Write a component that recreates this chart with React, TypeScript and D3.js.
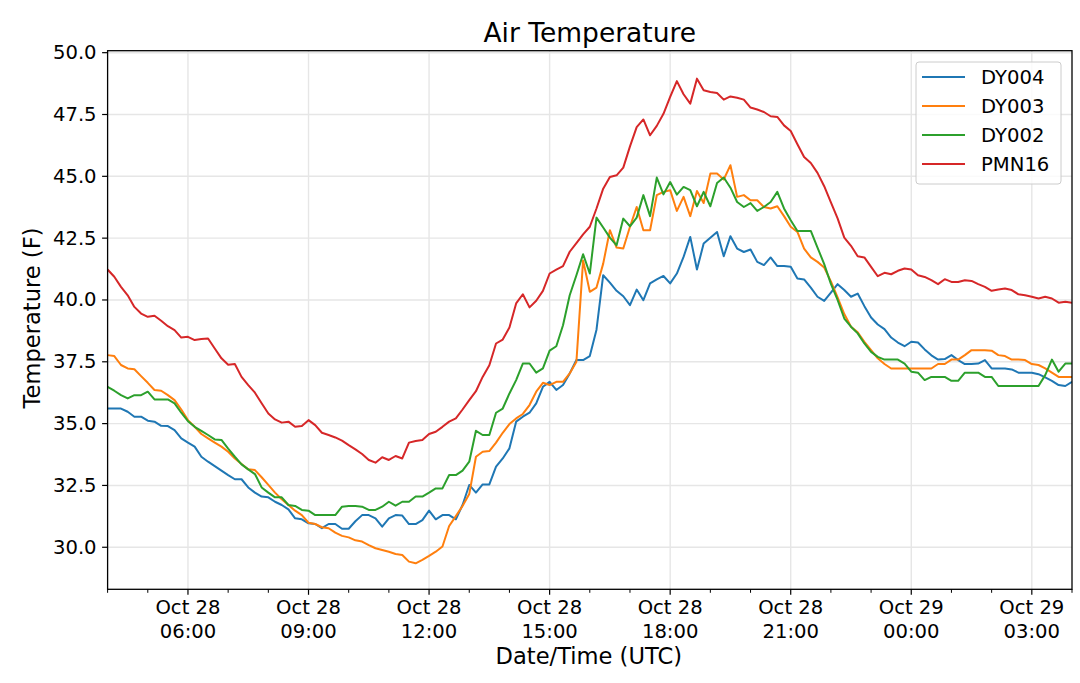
import React from 'react';
import * as d3 from 'd3';

const W = 1080;
const H = 683;
const M = { left: 107.6, right: 1072, top: 50.7, bottom: 589.3 };

// 10-minute samples starting Oct 28 04:00 UTC
const startUTC = Date.UTC(2018, 9, 28, 4, 0);
const stepMinutes = 10;

const dy004 = [
  35.61, 35.61, 35.61, 35.48, 35.28, 35.28, 35.12, 35.08, 34.91, 34.90,
  34.74, 34.40, 34.23, 34.07, 33.66, 33.46, 33.28, 33.10, 32.92, 32.75,
  32.75, 32.42, 32.21, 32.05, 32.02, 31.84, 31.71, 31.53, 31.17, 31.13,
  30.97, 30.94, 30.77, 30.94, 30.94, 30.75, 30.75, 31.05, 31.30, 31.30,
  31.17, 30.83, 31.17, 31.30, 31.28, 30.94, 30.94, 31.10, 31.48, 31.13,
  31.30, 31.30, 31.13, 31.71, 32.52, 32.21, 32.54, 32.54, 33.26, 33.59,
  34.00, 35.08, 35.28, 35.44, 35.82, 36.49, 36.69, 36.36, 36.56, 37.03,
  37.57, 37.57, 37.73, 38.80, 41.00, 40.70, 40.37, 40.15, 39.79, 40.42,
  39.99, 40.67, 40.83, 40.97, 40.67, 41.07, 41.74, 42.55, 41.23, 42.28,
  42.52, 42.75, 41.77, 42.58, 42.08, 41.94, 42.04, 41.54, 41.41, 41.72,
  41.37, 41.37, 41.34, 40.87, 40.83, 40.50, 40.13, 39.96, 40.30, 40.64,
  40.40, 40.13, 40.26, 39.75, 39.29, 39.01, 38.82, 38.48, 38.28, 38.13,
  38.31, 38.28, 38.00, 37.76, 37.59, 37.61, 37.77, 37.57, 37.41, 37.41,
  37.43, 37.57, 37.23, 37.23, 37.23, 37.19, 37.06, 37.06, 37.06, 37.00,
  36.87, 36.73, 36.56, 36.52, 36.69,
];

const dy003 = [
  37.77, 37.73, 37.37, 37.23, 37.20, 36.92, 36.65, 36.36, 36.33, 36.15,
  35.95, 35.57, 35.14, 34.87, 34.58, 34.40, 34.23, 34.07, 33.86, 33.59,
  33.37, 33.15, 33.12, 32.83, 32.52, 32.21, 31.94, 31.71, 31.48, 31.30,
  30.99, 30.94, 30.81, 30.77, 30.59, 30.46, 30.40, 30.28, 30.23, 30.09,
  29.96, 29.89, 29.82, 29.73, 29.69, 29.42, 29.35, 29.49, 29.65, 29.82,
  30.03, 30.86, 31.26, 31.67, 32.15, 33.66, 33.86, 33.89, 34.23, 34.63,
  34.98, 35.21, 35.39, 35.75, 36.29, 36.65, 36.56, 36.69, 36.69, 37.03,
  37.50, 41.60, 40.33, 40.50, 41.47, 42.82, 42.12, 42.08, 42.96, 43.76,
  42.82, 42.82, 44.24, 44.37, 44.44, 43.60, 44.17, 43.39, 44.41, 43.92,
  45.11, 45.11, 44.87, 45.45, 44.17, 44.24, 44.03, 44.03, 43.76, 43.70,
  43.79, 43.39, 42.96, 42.75, 42.08, 41.72, 41.54, 41.31, 40.75, 40.10,
  39.43, 38.92, 38.69, 38.31, 37.97, 37.64, 37.41, 37.23, 37.23, 37.23,
  37.23, 37.23, 37.23, 37.23, 37.41, 37.41, 37.59, 37.59, 37.77, 37.97,
  37.97, 37.97, 37.95, 37.77, 37.73, 37.59, 37.59, 37.57, 37.41, 37.37,
  37.23, 37.06, 36.89, 36.89, 36.89,
];

const dy002 = [
  36.49, 36.33, 36.15, 36.02, 36.15, 36.15, 36.29, 35.98, 35.98, 35.98,
  35.82, 35.44, 35.10, 34.87, 34.71, 34.54, 34.36, 34.34, 33.99, 33.66,
  33.35, 33.15, 32.96, 32.42, 32.21, 32.02, 32.02, 31.71, 31.67, 31.51,
  31.48, 31.30, 31.30, 31.30, 31.30, 31.64, 31.67, 31.67, 31.64, 31.51,
  31.51, 31.64, 31.84, 31.68, 31.84, 31.84, 32.05, 32.05, 32.21, 32.38,
  32.38, 32.92, 32.92, 33.10, 33.46, 34.71, 34.54, 34.54, 35.44, 35.61,
  36.22, 36.76, 37.43, 37.43, 37.06, 37.23, 37.95, 38.13, 38.98, 40.19,
  41.00, 41.85, 41.07, 43.33, 42.93, 42.52, 42.21, 43.29, 42.98, 43.33,
  44.24, 43.39, 44.95, 44.27, 44.77, 44.26, 44.57, 44.44, 43.79, 44.37,
  43.79, 44.73, 44.95, 44.54, 43.96, 43.76, 43.92, 43.60, 43.76, 43.96,
  44.37, 43.70, 43.22, 42.79, 42.79, 42.79, 42.12, 41.45, 40.65, 40.00,
  39.25, 38.92, 38.65, 38.24, 37.90, 37.70, 37.59, 37.59, 37.59, 37.43,
  37.10, 37.06, 36.76, 36.89, 36.89, 36.89, 36.73, 36.73, 37.06, 37.06,
  37.06, 36.89, 36.89, 36.52, 36.52, 36.52, 36.52, 36.52, 36.52, 36.52,
  36.96, 37.59, 37.10, 37.43, 37.43,
];

const pmn16 = [
  41.23, 40.94, 40.53, 40.19, 39.72, 39.45, 39.32, 39.36, 39.16, 38.94,
  38.78, 38.48, 38.51, 38.38, 38.42, 38.44, 38.04, 37.64, 37.38, 37.41,
  36.89, 36.56, 36.25, 35.82, 35.41, 35.17, 35.04, 35.08, 34.87, 34.90,
  35.14, 34.94, 34.63, 34.54, 34.44, 34.31, 34.13, 33.96, 33.77, 33.53,
  33.42, 33.64, 33.53, 33.69, 33.59, 34.23, 34.30, 34.34, 34.58, 34.67,
  34.87, 35.08, 35.21, 35.57, 35.95, 36.31, 36.89, 37.36, 38.24, 38.40,
  38.89, 39.86, 40.23, 39.70, 39.97, 40.37, 41.07, 41.23, 41.37, 41.95,
  42.30, 42.65, 42.96, 43.70, 44.50, 44.97, 45.04, 45.35, 46.21, 46.99,
  47.30, 46.66, 47.04, 47.53, 48.21, 48.85, 48.32, 47.94, 48.95, 48.48,
  48.41, 48.37, 48.10, 48.23, 48.18, 48.10, 47.78, 47.70, 47.60, 47.43,
  47.40, 47.06, 46.83, 46.30, 45.78, 45.54, 45.14, 44.60, 43.95, 43.30,
  42.52, 42.19, 41.77, 41.72, 41.34, 40.96, 41.10, 41.04, 41.18, 41.27,
  41.23, 41.00, 40.93, 40.80, 40.64, 40.84, 40.73, 40.73, 40.80, 40.77,
  40.64, 40.53, 40.37, 40.42, 40.46, 40.40, 40.23, 40.19, 40.13, 40.06,
  40.13, 40.06, 39.89, 39.93, 39.89,
];

const seriesNames = ['DY004', 'DY003', 'DY002', 'PMN16'];
const seriesColors = ['#1f77b4', '#ff7f0e', '#2ca02c', '#d62728'];
const seriesValues = [dy004, dy003, dy002, pmn16];

const yTicks = [30.0, 32.5, 35.0, 37.5, 40.0, 42.5, 45.0, 47.5, 50.0];
const yDomain = [28.3, 50.08];

const FONT = 'DejaVu Sans, sans-serif';

export default function App() {
  const times = dy004.map((_, i) => new Date(startUTC + i * stepMinutes * 60000));
  const x = d3.scaleUtc().domain([times[0], times[times.length - 1]]).range([M.left, M.right]);
  const y = d3.scaleLinear().domain(yDomain).range([M.bottom, M.top]);
  const line = d3
    .line<number>()
    .x((_, i) => x(times[i]))
    .y((d) => y(d));

  const major = x.ticks(d3.utcHour.every(3) as any);
  const minor = x.ticks(d3.utcHour.every(1) as any).filter((t) => t.getUTCHours() % 3 !== 0);
  const fmtDate = d3.utcFormat('%b %d');
  const fmtTime = d3.utcFormat('%H:%M');

  const legendX = 916;
  const legendY = 62;
  const rowH = 29;

  return (
    <svg
      width={W}
      height={H}
      style={{ position: 'absolute', left: 0, top: 0, background: '#fff' }}
      fontFamily={FONT}
    >
      <rect x={0} y={0} width={W} height={H} fill="#fff" />
      <defs>
        <clipPath id="plotclip">
          <rect x={M.left} y={M.top} width={M.right - M.left} height={M.bottom - M.top} />
        </clipPath>
      </defs>

      {/* grid */}
      <g stroke="#e6e6e6" strokeWidth={1.4}>
        {yTicks.map((v) => (
          <line key={'gy' + v} x1={M.left} x2={M.right} y1={y(v)} y2={y(v)} />
        ))}
        {major.map((t) => (
          <line key={'gx' + t.getTime()} x1={x(t)} x2={x(t)} y1={M.top} y2={M.bottom} />
        ))}
      </g>

      {/* series */}
      <g clipPath="url(#plotclip)" fill="none" strokeWidth={2} strokeLinejoin="round">
        {seriesValues.map((vals, si) => (
          <path key={seriesNames[si]} d={line(vals) || ''} stroke={seriesColors[si]} />
        ))}
      </g>

      {/* spines */}
      <rect
        x={M.left}
        y={M.top}
        width={M.right - M.left}
        height={M.bottom - M.top}
        fill="none"
        stroke="#000"
        strokeWidth={1.3}
      />

      {/* y axis ticks */}
      <g>
        {yTicks.map((v) => (
          <g key={'yt' + v}>
            <line x1={M.left - 5.5} x2={M.left} y1={y(v)} y2={y(v)} stroke="#000" strokeWidth={1.2} />
            <text
              x={M.left - 11}
              y={y(v)}
              textAnchor="end"
              dominantBaseline="central"
              fontSize={19.6}
              fill="#000"
            >
              {v.toFixed(1)}
            </text>
          </g>
        ))}
      </g>

      {/* x axis ticks */}
      <g>
        {minor.map((t) => (
          <line
            key={'mx' + t.getTime()}
            x1={x(t)}
            x2={x(t)}
            y1={M.bottom}
            y2={M.bottom + 3.5}
            stroke="#000"
            strokeWidth={1}
          />
        ))}
        {major.map((t) => (
          <g key={'xt' + t.getTime()}>
            <line x1={x(t)} x2={x(t)} y1={M.bottom} y2={M.bottom + 5.5} stroke="#000" strokeWidth={1.2} />
            <text x={x(t)} y={613.5} textAnchor="middle" fontSize={19.6} fill="#000">
              {fmtDate(t)}
            </text>
            <text x={x(t)} y={637.5} textAnchor="middle" fontSize={19.6} fill="#000">
              {fmtTime(t)}
            </text>
          </g>
        ))}
      </g>

      {/* labels */}
      <text x={(M.left + M.right) / 2} y={41.5} textAnchor="middle" fontSize={26.5} fill="#000">
        Air Temperature
      </text>
      <text x={(M.left + M.right) / 2 - 1} y={664} textAnchor="middle" fontSize={22.6} fill="#000">
        Date/Time (UTC)
      </text>
      <text
        transform={`translate(40, ${(M.top + M.bottom) / 2 - 2}) rotate(-90)`}
        textAnchor="middle"
        fontSize={22.6}
        fill="#000"
      >
        Temperature (F)
      </text>

      {/* legend */}
      <g>
        <rect
          x={legendX}
          y={legendY}
          width={145}
          height={122}
          rx={3}
          ry={3}
          fill="#fff"
          fillOpacity={0.8}
          stroke="#cccccc"
          strokeWidth={1}
        />
        {seriesNames.map((name, i) => {
          const cy = legendY + 15 + i * rowH;
          return (
            <g key={'lg' + name}>
              <line x1={922} x2={965} y1={cy} y2={cy} stroke={seriesColors[i]} strokeWidth={2} />
              <text x={981} y={cy} dominantBaseline="central" fontSize={19.6} fill="#000">
                {name}
              </text>
            </g>
          );
        })}
      </g>
    </svg>
  );
}
